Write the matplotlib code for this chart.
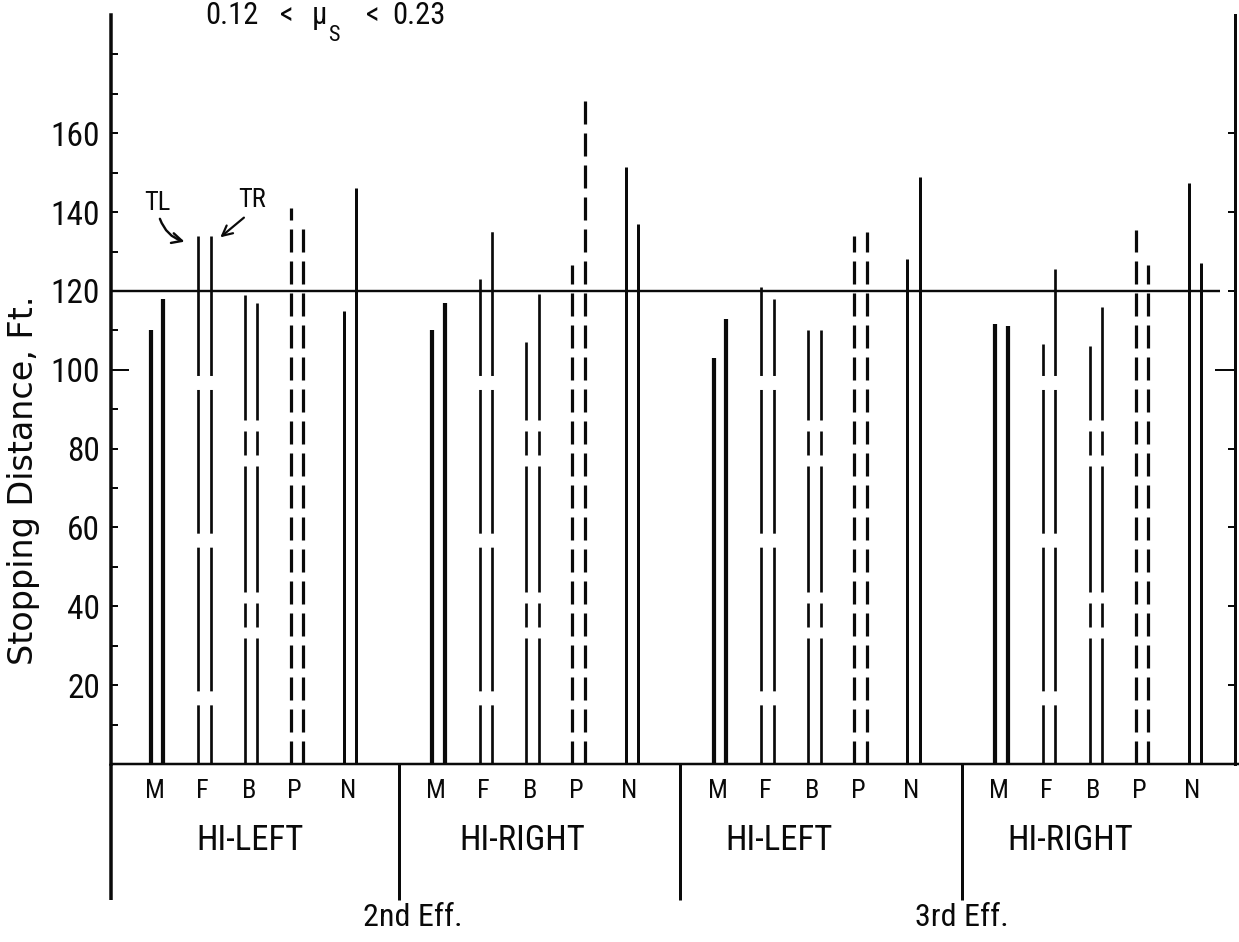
import matplotlib
matplotlib.use("Agg")
import matplotlib.pyplot as plt
from matplotlib import font_manager as fm

# ---------------- data ----------------
categories = ["M", "F", "B", "P", "N"]
group_names = ["HI-LEFT", "HI-RIGHT", "HI-LEFT", "HI-RIGHT"]
effort_names = ["2nd Eff.", "3rd Eff."]
# stopping distance (ft), left line of each pair = TL, right line = TR
tl_values = [
    [110, 134, 119, 141, 115],
    [110, 123, 107, 126.5, 151.5],
    [103, 121, 110, 134, 128],
    [111.5, 106.5, 106, 135.5, 147.5],
]
tr_values = [
    [118, 134, 117, 136, 146],
    [117, 136, 122, 170.5, 137],
    [113, 118, 110, 135, 149],
    [111, 125.5, 116, 126.5, 127],
]
reference_line = 120
major_ticks = [20, 40, 60, 80, 100, 120, 140, 160]
minor_ticks = [10, 30, 50, 70, 90, 110, 130, 150, 170, 180]
title_parts = ["0.12", "<", "\u03bc", "S", "<", "0.23"]

# ---------------- layout ----------------
W, H, DPI = 1239, 942, 100
PX = 0.72                     # points per pixel at 100 dpi
PX_LEFT, PX_RIGHT = 111, 1235
PX_BASE, PX_TOP = 764, 15
UNIT = 48.3                   # px per category step
X0 = 157                      # px of first category
YMAX = 190
GROUP_STEP = 5.83
CAT_POS = [0, 0.98, 1.95, 2.9, 4.0]
PAIR = 0.13
SEP_REL = 5.0
GROUP_LABEL_DX = [1.93, 1.74, 1.22, 1.41]
Y_PER_PX = YMAX / (PX_BASE - PX_TOP)


def pick_narrow():
    prefs = ["Liberation Sans Narrow", "Roboto Condensed", "DejaVu Sans Condensed",
             "Open Sans Condensed", "Noto Sans Condensed", "Arial Narrow"]
    cands = [f for f in fm.fontManager.ttflist
             if f.style == "normal" and str(f.weight) in ("400", "normal", "regular", "book")]
    for p in prefs:
        for f in cands:
            if f.name == p:
                return f.fname
    for f in cands:
        if f.stretch in ("condensed", "semi-condensed", "extra-condensed") and "CJK" not in f.name:
            return f.fname
    return None


NARROW = pick_narrow()


def nf(size):
    if NARROW:
        return fm.FontProperties(fname=NARROW, size=size)
    return fm.FontProperties(family="DejaVu Sans", size=size * 0.8)


plt.rcParams["lines.scale_dashes"] = False

fig = plt.figure(figsize=(W / DPI, H / DPI), dpi=DPI)
fig.patch.set_facecolor("white")
ax = fig.add_axes([PX_LEFT / W, (H - PX_BASE) / H,
                   (PX_RIGHT - PX_LEFT) / W, (PX_BASE - PX_TOP) / H])
xmin, xmax = (PX_LEFT - X0) / UNIT, (PX_RIGHT - X0) / UNIT
ax.set_xlim(xmin, xmax)
ax.set_ylim(0, YMAX)
ax.set_facecolor("white")

ink = "#0a0a0a"
u = 1 / Y_PER_PX  # px per value unit

# dash styles (bottom anchored)
f_dash, f_gap = 143.7, 14.0
f_first = 15 * u
styles = {
    "M": dict(lw=4.2 * PX, ls="solid"),
    "F": dict(lw=2.7 * PX, ls=((f_dash - f_first) * PX, (f_dash * PX, f_gap * PX))),
    "B": dict(lw=2.7 * PX, ls=(0, (126 * PX, 11 * PX, 24 * PX, 11 * PX))),
    "P": dict(lw=3.2 * PX, ls=(0, (23 * PX, 9 * PX))),
    "N": dict(lw=3.0 * PX, ls="solid"),
}

for g in range(len(group_names)):
    for k, cat in enumerate(categories):
        xc = g * GROUP_STEP + CAT_POS[k]
        for side, vals in ((-1, tl_values), (1, tr_values)):
            st = styles[cat]
            ax.plot([xc + side * PAIR, xc + side * PAIR], [0, vals[g][k]],
                    color=ink, lw=st["lw"], linestyle=st["ls"],
                    solid_capstyle="butt", dash_capstyle="butt")
        ax.text(xc - 0.05, -(791 - PX_BASE) * Y_PER_PX, cat, ha="center", va="center",
                fontproperties=nf(19), color=ink)
    ax.text(g * GROUP_STEP + GROUP_LABEL_DX[g], -(840 - PX_BASE) * Y_PER_PX, group_names[g],
            ha="center", va="center", fontproperties=nf(25), color=ink)

# reference line at 120 ft
ax.plot([xmin, (1220 - X0) / UNIT], [reference_line, reference_line],
        color=ink, lw=2.4 * PX, solid_capstyle="butt")

# lower frame: left axis extension and group separators
ybot = -(900 - PX_BASE) * Y_PER_PX
ax.plot([xmin, xmin], [0, ybot], color=ink, lw=3.5 * PX, clip_on=False, solid_capstyle="butt")
seps = [g * GROUP_STEP + SEP_REL for g in range(3)]
for sx in seps:
    ax.plot([sx, sx], [0, ybot], color=ink, lw=3.0 * PX, clip_on=False, solid_capstyle="butt")
# baseline continues to the right edge
ax.plot([xmax, (W - X0) / UNIT], [0, 0], color=ink, lw=2.5 * PX, clip_on=False)

# effort labels
eff_x = [seps[0] + 0.3, seps[2]]
for ex, name in zip(eff_x, effort_names):
    ax.text(ex, -(918 - PX_BASE) * Y_PER_PX, name, ha="center", va="center",
            fontproperties=nf(23), color=ink)

# spines and ticks
ax.spines["top"].set_visible(False)
ax.spines["left"].set_linewidth(3.5 * PX)
ax.spines["right"].set_linewidth(3.0 * PX)
ax.spines["bottom"].set_linewidth(2.5 * PX)
for s in ax.spines.values():
    s.set_color(ink)
ax.set_xticks([])
ax.set_yticks(major_ticks)
ax.set_yticks(minor_ticks, minor=True)
ax.tick_params(axis="y", which="both", direction="in", length=7 * PX, width=2 * PX,
               left=True, right=True, color=ink, pad=8)
ax.tick_params(axis="y", which="minor", right=False)
ax.set_yticklabels([str(t) for t in major_ticks])
for lab in ax.get_yticklabels():
    lab.set_fontproperties(nf(24))
    lab.set_color(ink)
ticks = ax.yaxis.get_major_ticks()
i100 = major_ticks.index(100)
ticks[i100].tick1line.set_markersize(18 * PX)
ticks[i100].tick2line.set_markersize(20 * PX)

# y axis label
fig.text(24 / W, (H - 480) / H, "Stopping Distance, Ft.", rotation=90,
         ha="center", va="center", family="DejaVu Sans", fontsize=24, color=ink)

# TL / TR annotations
fx = 0 * GROUP_STEP + CAT_POS[1]
ax.text(fx - 0.98, 142.3, "TL", ha="center", va="center", fontproperties=nf(19), color=ink)
ax.text(fx + 0.99, 143.1, "TR", ha="center", va="center", fontproperties=nf(19), color=ink)
ax.annotate("", xy=(fx - PAIR - 0.28, 132.5), xytext=(fx - 0.92, 138.3),
            arrowprops=dict(arrowstyle="->", lw=2.4 * PX, color=ink, mutation_scale=18,
                            shrinkA=0, shrinkB=0, connectionstyle="arc3,rad=0.25"))
ax.annotate("", xy=(fx + PAIR + 0.2, 133.6), xytext=(fx + 0.82, 138.6),
            arrowprops=dict(arrowstyle="->", lw=2.2 * PX, color=ink, mutation_scale=18,
                            shrinkA=0, shrinkB=0))

# title (kept just inside the top edge)
title_x = [205, 280, 312, 328, 366, 392]
title_base = [24, 24, 24, 41, 24, 24]
title_size = [22, 22, 22, 16, 22, 22]
for txt, tx, tb, ts in zip(title_parts, title_x, title_base, title_size):
    fig.text(tx / W, (H - tb) / H, txt, ha="left", va="baseline",
             fontproperties=nf(ts), color=ink)

fig.savefig("out.png", dpi=DPI, facecolor="white")
